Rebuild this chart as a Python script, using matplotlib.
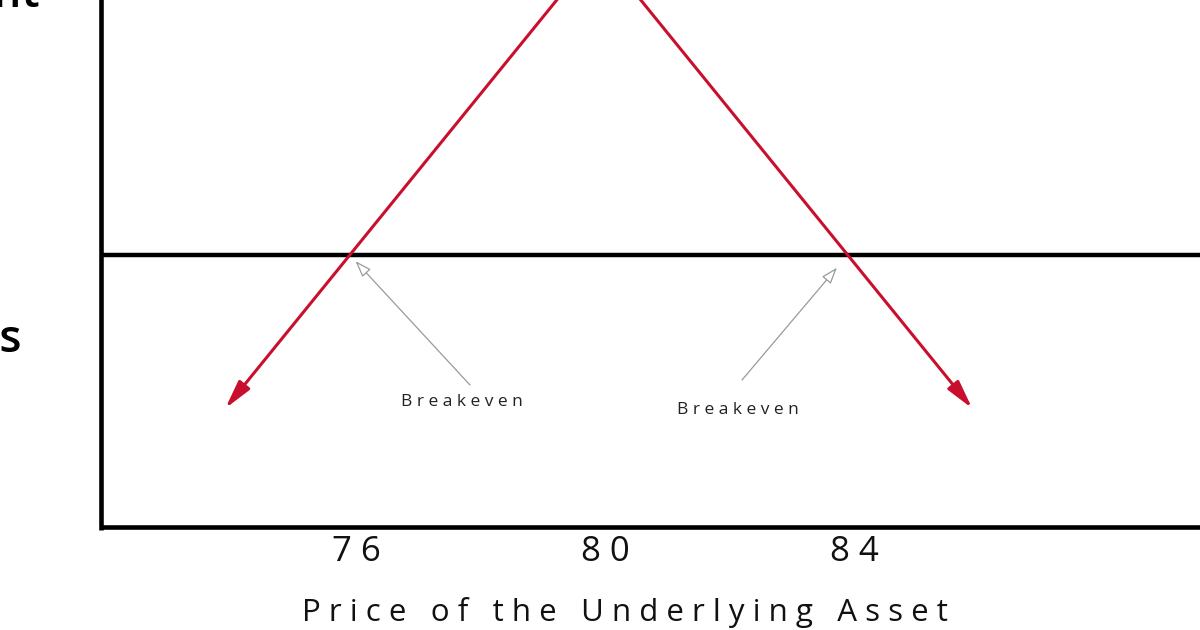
import matplotlib
matplotlib.use('Agg')
import matplotlib.pyplot as plt

plt.rcParams['font.family'] = ['Open Sans', 'DejaVu Sans']

# payoff of the position (price, profit/loss)
prices = [74, 80, 86]
payoff = [-2, 4, -2]
breakevens = [76, 84]
tick_values = [76, 80, 84]
tick_labels = ['7 6', '8 0', '8 4']
be_label = 'B r e a k e v e n'
x_title = 'P r i c e   o f   t h e   U n d e r l y i n g   A s s e t'

red = '#c8102e'
grey = '#9a9a9a'

fig = plt.figure(figsize=(12, 6.3), dpi=100)
ax = fig.add_axes([0, 0, 1, 1])
ax.set_xlim(70.38, 89.66)
ax.set_ylim(-4.89, 3.325)
ax.axis('off')

# axes drawn by hand
ax.plot([72, 72], [-3.58, 3.4], color='black', lw=3.3, solid_capstyle='butt')
ax.plot([72, 90], [0, 0], color='black', lw=3.2, solid_capstyle='butt')
ax.plot([72, 90], [-3.55, -3.55], color='black', lw=3.3, solid_capstyle='butt')

# payoff lines with arrow heads at both ends
for i in (0, 2):
    ax.annotate('', xy=(prices[i], payoff[i]), xytext=(prices[1], payoff[1]),
                arrowprops=dict(arrowstyle='-|>,head_length=1.7,head_width=0.42',
                                color=red, lw=2.2, mutation_scale=10,
                                shrinkA=0, shrinkB=0),
                annotation_clip=False)

# breakeven pointers
be_text_pos = [(462 / 1200, 1 - 402 / 630), (738 / 1200, 1 - 410 / 630)]
be_tail_pos = [(470 / 1200, 1 - 385 / 630), (742 / 1200, 1 - 380 / 630)]
be_shrink = [6, 12]
for be, tpos, tail, sh in zip(breakevens, be_text_pos, be_tail_pos, be_shrink):
    ax.annotate('', xy=(be, 0), xytext=tail, textcoords='axes fraction',
                arrowprops=dict(arrowstyle='-|>,head_length=1.0,head_width=0.35',
                                fc='white', ec=grey, lw=0.9, mutation_scale=10,
                                shrinkA=0, shrinkB=sh))
    ax.text(tpos[0], tpos[1], be_label, transform=ax.transAxes,
            ha='center', va='center', fontsize=12.5, color='#222222')

# tick labels
for v, lab in zip(tick_values, tick_labels):
    ax.text(v + 0.1, -3.87, lab, ha='center', va='center', fontsize=25,
            color='#111111')

ax.text(625 / 1200, 1 - 613 / 630, x_title, transform=ax.transAxes,
        ha='center', va='center', fontsize=22.5, color='#111111')

# side labels, cut off by the picture edge as in the original
ax.text(40 / 1200, 1 - 7 / 630, 'Profit', transform=ax.transAxes,
        ha='right', va='baseline', fontsize=33, fontweight='semibold')
ax.text(22 / 1200, 1 - 352 / 630, 'Loss', transform=ax.transAxes,
        ha='right', va='baseline', fontsize=33, fontweight='semibold')

fig.savefig('out.png', dpi=100)
